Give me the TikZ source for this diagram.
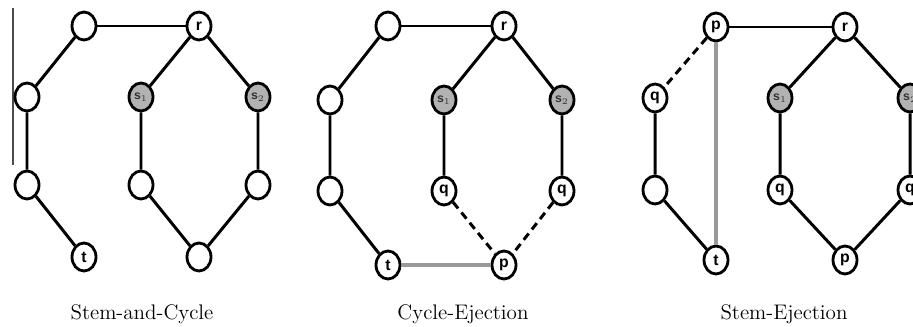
\documentclass[tikz,border=0pt]{standalone}
\usepackage{fontspec}
\setsansfont{Liberation Sans}
\usetikzlibrary{shapes.geometric}

\begin{document}
\begin{tikzpicture}[x=0.02cm, y=-0.02cm, font=\sffamily\bfseries\small,
		vtx/.style={ellipse, draw, line width=1.6pt, fill=white, minimum width=0.48cm, minimum height=0.56cm, inner sep=0pt},
		seed/.style={vtx, fill=gray!60, font=\sffamily\bfseries\scriptsize, text=black!80},
		edge/.style={line width=1.7pt},
		ejected/.style={edge, dash pattern=on 4.5pt off 3pt},
		added/.style={line width=2pt, draw=gray!80},
		caption/.style={font=\rmfamily\large}]

		\useasboundingbox (0, 0) rectangle (913, 327);
		\clip (0, 0) rectangle (913, 327);

		\draw [gray!60!black, line width=0.6pt] (13, 8) -- (13, 165);

		% Stem-and-Cycle
		\node [vtx] (a1) at (84, 26) {};
		\node [vtx] (a2) at (27, 97) {};
		\node [vtx] (a3) at (27, 185) {};
		\node [vtx] (t1) at (84, 257) {t};
		\node [vtx] (r1) at (199, 26) {r};
		\node [seed] (s11) at (141, 97) {s$_1$};
		\node [seed] (s21) at (258, 97) {s$_2$};
		\node [vtx] (c1) at (141, 185) {};
		\node [vtx] (c2) at (258, 185) {};
		\node [vtx] (c3) at (199, 257) {};

		\draw [edge] (a1) -- (r1);
		\draw [edge] (a1) -- (a2) -- (a3) -- (t1);
		\draw [edge] (r1) -- (s11) -- (c1) -- (c3);
		\draw [edge] (r1) -- (s21) -- (c2) -- (c3);

		\node [caption] (cap1) at (142, 314) {Stem-and-Cycle};

		% Cycle-Ejection
		\node [vtx] (b1) at (388, 26) {};
		\node [vtx] (b2) at (330, 100) {};
		\node [vtx] (b3) at (330, 191) {};
		\node [vtx] (t2) at (388, 265) {t};
		\node [vtx] (r2) at (504, 26) {r};
		\node [seed] (s12) at (444, 100) {s$_1$};
		\node [seed] (s22) at (562, 100) {s$_2$};
		\node [vtx] (q12) at (444, 191) {q};
		\node [vtx] (q22) at (562, 191) {q};
		\node [vtx] (p2) at (504, 265) {p};

		\draw [edge] (b1) -- (r2);
		\draw [edge] (b1) -- (b2) -- (b3) -- (t2);
		\draw [edge] (r2) -- (s12) -- (q12);
		\draw [edge] (r2) -- (s22) -- (q22);
		\draw [ejected] (q12) -- (p2);
		\draw [ejected] (q22) -- (p2);
		\draw [added] (t2) -- (p2);

		\node [caption] (cap2) at (463, 314) {Cycle-Ejection};

		% Stem-Ejection
		\node [vtx] (p3) at (716, 27) {p};
		\node [vtx] (q3) at (655, 98) {q};
		\node [vtx] (e3) at (655, 190) {};
		\node [vtx] (t3) at (716, 260) {t};
		\node [vtx] (r3) at (845, 27) {r};
		\node [seed] (s13) at (780, 98) {s$_1$};
		\node [seed] (s23) at (910, 98) {s$_2$};
		\node [vtx] (q13) at (780, 190) {q};
		\node [vtx] (q23) at (910, 190) {q};
		\node [vtx] (pb3) at (845, 260) {p};

		\draw [edge] (p3) -- (r3);
		\draw [ejected] (p3) -- (q3);
		\draw [edge] (q3) -- (e3) -- (t3);
		\draw [added] (p3) -- (t3);
		\draw [edge] (r3) -- (s13) -- (q13) -- (pb3);
		\draw [edge] (r3) -- (s23) -- (q23) -- (pb3);

		\node [caption] (cap3) at (784, 314) {Stem-Ejection};
	\end{tikzpicture}
\end{document}
